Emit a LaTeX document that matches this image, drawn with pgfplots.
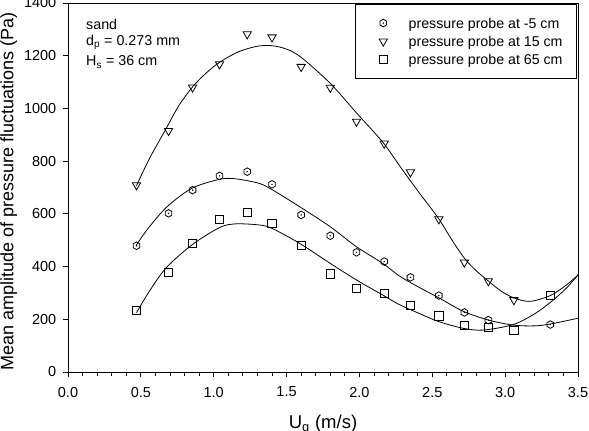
\documentclass[border=0pt]{standalone}
\usepackage{fontspec}
\setmainfont{Liberation Sans}
\usepackage{pgfplots}
\pgfplotsset{compat=1.18}

\pgfdeclareplotmark{hexdot}{%
  \pgfpathmoveto{\pgfpointpolar{90}{\pgfplotmarksize}}%
  \pgfpathlineto{\pgfpointpolar{150}{\pgfplotmarksize}}%
  \pgfpathlineto{\pgfpointpolar{210}{\pgfplotmarksize}}%
  \pgfpathlineto{\pgfpointpolar{270}{\pgfplotmarksize}}%
  \pgfpathlineto{\pgfpointpolar{330}{\pgfplotmarksize}}%
  \pgfpathlineto{\pgfpointpolar{30}{\pgfplotmarksize}}%
  \pgfpathclose
  \pgfusepathqstroke
  \pgfpathcircle{\pgfpointorigin}{0.8bp}%
  \pgfusepathqfill
}

\begin{document}
\begin{tikzpicture}
\useasboundingbox (-68bp,-59bp) rectangle (521bp,372bp);
\begin{axis}[
  at={(0bp,0bp)}, anchor=south west,
  scale only axis, width=510bp, height=369bp,
  xmin=0, xmax=3.5, ymin=0, ymax=1400,
  xtick={0,0.5,1,1.5,2,2.5,3,3.5},
  ytick={0,200,400,600,800,1000,1200,1400},
  minor x tick num=4,
  tick pos=left, tick align=outside,
  major tick length=5bp, minor tick length=3.5bp,
  every tick/.style={black, line width=0.8bp},
  axis line style={black, line width=0.9bp},
  /pgf/number format/assume math mode=true,
  tick label style={font=\fontsize{14.5bp}{17bp}\selectfont},
  xticklabel style={yshift=-6.5bp, /pgf/number format/fixed, /pgf/number format/fixed zerofill, /pgf/number format/precision=1},
  yticklabel style={xshift=-3.2bp, /pgf/number format/1000 sep={}},
  xlabel={U\textsubscript{g} (m/s)},
  xlabel style={font=\fontsize{18.5bp}{20bp}\selectfont, at={(axis description cs:0.5,-0.1531)}, anchor=base, inner sep=0pt},
  ylabel={Mean amplitude of pressure fluctuations (Pa)},
  ylabel style={font=\fontsize{18bp}{20bp}\selectfont, at={(axis description cs:-0.1069,0.489)}, anchor=base, inner sep=0pt},
  legend cell align=left,
  legend style={at={(axis description cs:1,1)}, anchor=north east, xshift=-1bp, yshift=-1bp,
    draw=black, line width=0.8bp, font=\fontsize{14.2bp}{17bp}\selectfont,
    inner xsep=14bp, inner ysep=10.5bp, row sep=2bp, column sep=12bp,
    nodes={inner sep=0bp, text height=13.5bp, text depth=2.8bp}},
  legend image code/.code={\path (-13bp,0bp) (13bp,0bp); \draw[#1, line width=0.8bp] plot coordinates {(0bp,0bp)};},
]
% fitted curves
\addplot[black, line width=0.8bp, smooth, forget plot] coordinates {
 (0.47,482) (0.55,545) (0.68,627) (0.85,697) (1.04,731) (1.15,733) (1.31,716) (1.40,692)
 (1.59,627) (1.80,551) (1.98,475) (2.16,412) (2.28,362) (2.42,318) (2.54,283) (2.71,231)
 (2.885,197) (3.056,178) (3.2,175) (3.31,182) (3.5,204)};
\addplot[black, line width=0.8bp, smooth, forget plot] coordinates {
 (0.47,707) (0.56,811) (0.67,920) (0.76,1010) (0.86,1085) (0.95,1135) (1.04,1175) (1.17,1215)
 (1.30,1236) (1.40,1238) (1.50,1225) (1.60,1194) (1.80,1095) (1.98,983) (2.16,872) (2.28,779)
 (2.41,680) (2.54,585) (2.63,505) (2.72,432) (2.80,385) (2.885,345) (2.97,308) (3.06,281)
 (3.17,268) (3.31,290) (3.42,330) (3.5,368)};
\addplot[black, line width=0.8bp, smooth, forget plot] coordinates {
 (0.47,225) (0.55,299) (0.67,393) (0.85,482) (1.04,548) (1.15,562) (1.31,558) (1.40,545)
 (1.59,488) (1.80,412) (1.98,349) (2.16,292) (2.28,254) (2.42,220) (2.54,192) (2.71,166)
 (2.85,159) (3.056,180) (3.2,220) (3.31,264) (3.42,318) (3.5,368)};
% data
\addplot[black, only marks, mark=hexdot, mark size=3.8bp, mark options={line width=0.8bp}] coordinates {
 (0.47,479) (0.69,602) (0.855,690) (1.04,744) (1.23,760) (1.40,712) (1.60,596) (1.80,517)
 (1.98,454) (2.17,419) (2.35,359) (2.545,290) (2.72,226) (2.885,197) (3.31,180)};
\addlegendentry{pressure probe at -5 cm}
\addplot[black, only marks, mark=triangle, mark size=4.8bp, mark options={rotate=180, line width=0.8bp}] coordinates {
 (0.47,709) (0.69,915) (0.855,1080) (1.04,1168) (1.23,1282) (1.40,1270) (1.60,1158) (1.80,1079)
 (1.98,950) (2.17,867) (2.35,758) (2.545,580) (2.72,416) (2.885,345) (3.06,273)};
\addlegendentry{pressure probe at 15 cm}
\addplot[black, only marks, mark=square, mark size=4.15bp, mark options={line width=0.8bp}] coordinates {
 (0.47,233) (0.69,377) (0.855,488) (1.04,578) (1.23,605) (1.40,564) (1.60,479) (1.80,372)
 (1.98,318) (2.17,299) (2.35,253) (2.545,213) (2.72,177) (2.885,170) (3.06,158) (3.31,291)};
\addlegendentry{pressure probe at 65 cm}
\node[anchor=base west, inner sep=0pt, font=\fontsize{14.3bp}{17bp}\selectfont, xshift=18bp, yshift=-26.5bp] at (rel axis cs:0,1) {sand};
\node[anchor=base west, inner sep=0pt, font=\fontsize{14.3bp}{17bp}\selectfont, xshift=18bp, yshift=-42.7bp] at (rel axis cs:0,1) {d\textsubscript{p} = 0.273 mm};
\node[anchor=base west, inner sep=0pt, font=\fontsize{14.3bp}{17bp}\selectfont, xshift=18bp, yshift=-63bp] at (rel axis cs:0,1) {H\textsubscript{s} = 36 cm};
\end{axis}
\end{tikzpicture}
\end{document}
